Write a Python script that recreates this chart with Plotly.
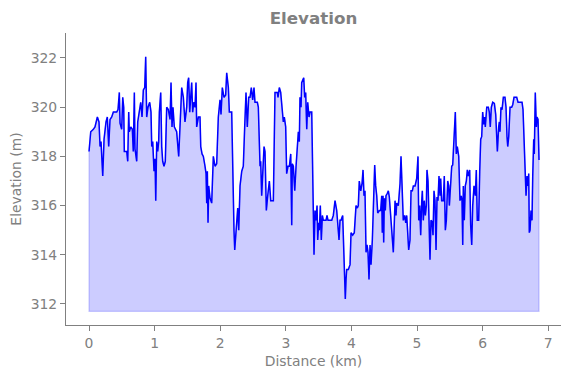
import plotly.graph_objects as go

distance_km = [
    0.000, 0.026, 0.066, 0.091, 0.127, 0.152, 0.168, 0.183, 0.209, 0.229,
    0.259, 0.279, 0.300, 0.320, 0.346, 0.371, 0.422, 0.442, 0.462, 0.473,
    0.498, 0.514, 0.529, 0.538, 0.575, 0.590, 0.605, 0.614, 0.636, 0.660,
    0.675, 0.691, 0.701, 0.727, 0.742, 0.762, 0.788, 0.808, 0.828, 0.849,
    0.864, 0.879, 0.899, 0.925, 0.945, 0.956, 0.971, 0.991, 1.006, 1.017,
    1.032, 1.047, 1.062, 1.072, 1.093, 1.108, 1.123, 1.143, 1.163, 1.184,
    1.209, 1.235, 1.250, 1.265, 1.280, 1.300, 1.336, 1.367, 1.387, 1.413,
    1.438, 1.463, 1.489, 1.504, 1.519, 1.535, 1.550, 1.565, 1.580, 1.596,
    1.616, 1.631, 1.641, 1.667, 1.692, 1.703, 1.723, 1.743, 1.768, 1.784,
    1.794, 1.804, 1.814, 1.825, 1.845, 1.870, 1.895, 1.921, 1.946, 1.971,
    1.997, 2.012, 2.032, 2.058, 2.083, 2.099, 2.124, 2.139, 2.175, 2.190,
    2.210, 2.221, 2.251, 2.267, 2.282, 2.302, 2.328, 2.352, 2.373, 2.393,
    2.413, 2.434, 2.454, 2.474, 2.495, 2.515, 2.530, 2.566, 2.581, 2.591,
    2.607, 2.617, 2.632, 2.648, 2.668, 2.683, 2.703, 2.724, 2.749, 2.770,
    2.810, 2.835, 2.870, 2.881, 2.901, 2.922, 2.942, 2.962, 2.977, 2.998,
    3.013, 3.034, 3.054, 3.075, 3.090, 3.099, 3.115, 3.136, 3.156, 3.191,
    3.206, 3.216, 3.232, 3.242, 3.258, 3.273, 3.288, 3.303, 3.319, 3.334,
    3.354, 3.369, 3.395, 3.410, 3.419, 3.430, 3.445, 3.460, 3.476, 3.486,
    3.501, 3.511, 3.526, 3.541, 3.557, 3.572, 3.613, 3.628, 3.643, 3.700,
    3.724, 3.750, 3.776, 3.791, 3.811, 3.826, 3.841, 3.867, 3.887, 3.898,
    3.907, 3.918, 3.928, 3.953, 3.979, 3.994, 4.019, 4.044, 4.070, 4.090,
    4.105, 4.120, 4.142, 4.162, 4.177, 4.192, 4.207, 4.223, 4.238, 4.253,
    4.268, 4.284, 4.299, 4.319, 4.334, 4.355, 4.370, 4.386, 4.401, 4.426,
    4.446, 4.462, 4.471, 4.482, 4.492, 4.502, 4.517, 4.527, 4.548, 4.563,
    4.578, 4.614, 4.639, 4.665, 4.680, 4.690, 4.715, 4.741, 4.756, 4.771,
    4.791, 4.812, 4.828, 4.843, 4.858, 4.873, 4.893, 4.909, 4.929, 4.944,
    4.970, 4.995, 5.015, 5.026, 5.041, 5.056, 5.072, 5.081, 5.096, 5.111,
    5.127, 5.142, 5.152, 5.168, 5.183, 5.198, 5.213, 5.229, 5.244, 5.259,
    5.274, 5.290, 5.305, 5.320, 5.335, 5.351, 5.361, 5.376, 5.401, 5.416,
    5.432, 5.447, 5.468, 5.483, 5.493, 5.514, 5.529, 5.544, 5.564, 5.584,
    5.599, 5.614, 5.636, 5.655, 5.675, 5.686, 5.697, 5.706, 5.721, 5.736,
    5.752, 5.767, 5.782, 5.803, 5.818, 5.834, 5.849, 5.869, 5.889, 5.904,
    5.919, 5.940, 5.956, 5.971, 5.986, 6.001, 6.017, 6.032, 6.041, 6.063,
    6.087, 6.102, 6.117, 6.133, 6.154, 6.179, 6.200, 6.215, 6.225, 6.245,
    6.255, 6.265, 6.280, 6.296, 6.316, 6.341, 6.357, 6.372, 6.383, 6.398,
    6.418, 6.443, 6.459, 6.479, 6.499, 6.520, 6.540, 6.570, 6.601, 6.616,
    6.631, 6.642, 6.651, 6.662, 6.677, 6.692, 6.703, 6.712, 6.723, 6.738,
    6.753, 6.764, 6.779, 6.788, 6.803, 6.819, 6.829, 6.845, 6.860,
]

elevation_m = [
    318.2, 319.0, 319.1, 319.2, 319.6, 319.4, 318.4, 318.6, 317.2, 318.7,
    319.4, 319.6, 318.4, 319.5, 319.6, 319.8, 319.8, 319.9, 320.6, 319.35,
    319.1, 320.4, 320.0, 318.2, 318.2, 317.8, 319.8, 319.0, 319.2, 319.1,
    318.2, 320.6, 318.3, 317.8, 319.4, 319.8, 320.2, 319.6, 320.7, 320.8,
    322.05, 319.6, 320.0, 320.2, 319.8, 318.4, 318.6, 317.4, 317.9, 316.2,
    318.6, 318.2, 318.6, 319.8, 320.6, 318.4, 317.8, 317.6, 317.8, 320.0,
    319.9, 319.5, 321.0, 319.2, 320.0, 319.2, 319.0, 318.0, 319.0, 320.8,
    320.4, 319.4, 320.0, 321.0, 321.2, 319.8, 320.4, 321.0, 319.8, 320.2,
    320.0, 321.0, 319.2, 319.6, 319.6, 318.4, 318.1, 318.0, 317.6, 317.3,
    316.1, 317.4, 315.3, 316.8, 316.3, 316.1, 318.0, 317.6, 317.7, 319.6,
    320.3, 319.7, 320.8, 320.4, 320.5, 321.4, 320.8, 319.8, 319.8, 317.0,
    315.0, 314.2, 315.4, 315.9, 315.0, 316.8, 317.4, 317.6, 319.2, 320.6,
    319.2, 320.4, 320.4, 320.8, 320.3, 320.8, 320.2, 320.2, 320.0, 318.8,
    317.6, 317.8, 316.4, 317.3, 318.4, 318.2, 315.8, 316.4, 317.0, 316.2,
    316.2, 320.6, 320.6, 320.4, 320.8, 320.6, 319.8, 319.4, 319.6, 319.2,
    317.3, 317.6, 317.6, 318.1, 315.2, 317.7, 317.6, 316.6, 317.6, 319.0,
    318.6, 320.4, 320.0, 321.0, 321.1, 321.2, 320.4, 320.6, 319.1, 320.2,
    319.6, 319.8, 319.8, 317.45, 316.1, 314.0, 315.8, 315.4, 316.0, 314.6,
    315.3, 315.0, 316.0, 314.6, 315.6, 315.4, 315.4, 315.6, 315.4, 315.4,
    315.6, 316.2, 315.8, 315.4, 314.6, 315.4, 315.4, 315.6, 313.5, 312.8,
    312.2, 313.0, 313.4, 313.4, 313.6, 314.9, 314.8, 314.9, 316.0, 315.9,
    316.0, 317.0, 316.6, 316.9, 317.45, 316.4, 316.6, 314.1, 314.4, 314.1,
    313.0, 314.4, 313.6, 314.6, 316.2, 317.65, 316.8, 316.4, 315.7, 315.8,
    315.8, 316.4, 314.9, 316.4, 314.5, 316.3, 315.8, 316.4, 316.5, 316.6,
    316.35, 315.0, 314.1, 316.2, 315.6, 316.1, 316.0, 316.9, 318.0, 316.9,
    315.4, 315.6, 315.3, 315.6, 314.5, 314.2, 314.6, 316.6, 316.6, 316.8,
    316.8, 317.1, 318.0, 315.4, 316.0, 314.8, 316.2, 316.6, 315.4, 316.2,
    315.6, 316.0, 317.45, 317.0, 315.4, 313.8, 315.4, 315.35, 314.8, 316.6,
    316.2, 314.2, 316.35, 316.2, 317.2, 316.4, 317.1, 316.2, 316.2, 317.2,
    315.0, 315.4, 317.0, 316.8, 316.0, 317.3, 317.6, 317.65, 319.1, 319.8,
    318.1, 318.4, 318.0, 316.2, 316.4, 316.2, 314.4, 316.8, 315.4, 316.8,
    317.0, 317.45, 317.2, 317.45, 315.2, 314.4, 316.0, 316.8, 316.4, 317.45,
    315.4, 315.4, 317.4, 318.7, 318.8, 319.8, 319.3, 319.6, 319.2, 320.0,
    320.0, 319.8, 319.2, 320.0, 320.2, 320.15, 319.7, 318.7, 318.2, 319.2,
    319.4, 319.0, 320.0, 319.9, 320.4, 320.4, 320.0, 318.8, 318.4, 318.8,
    320.0, 320.0, 320.1, 320.4, 320.4, 320.4, 320.2, 320.2, 320.2, 319.9,
    318.7, 318.0, 317.6, 316.4, 317.2, 316.8, 317.3, 314.9, 315.0, 315.8,
    315.4, 317.2, 318.7, 318.1, 320.6, 319.2, 319.6, 319.5, 317.85,
]

fill_base_m = min(elevation_m) - 0.5

title_text = "Elevation"
x_title = "Distance (km)"
y_title = "Elevation (m)"
x_ticks = [0, 1, 2, 3, 4, 5, 6, 7]
y_ticks = [312, 314, 316, 318, 320, 322]

GREY = "#808080"
FONT = "DejaVu Sans"

fig = go.Figure()

# filled area polygon (matplotlib-like fill_between with translucent edge)
fig.add_trace(go.Scatter(
    x=distance_km + [distance_km[-1], distance_km[0], distance_km[0]],
    y=elevation_m + [fill_base_m, fill_base_m, elevation_m[0]],
    mode="lines",
    fill="toself",
    fillcolor="rgba(0,0,255,0.2)",
    line=dict(color="rgba(0,0,255,0.2)", width=1.2),
    hoverinfo="skip",
    showlegend=False,
))

fig.add_trace(go.Scatter(
    x=distance_km,
    y=elevation_m,
    mode="lines",
    line=dict(color="#0000ff", width=1.5),
    showlegend=False,
))

axis_common = dict(
    showline=True,
    linecolor=GREY,
    linewidth=1.1,
    showgrid=False,
    zeroline=False,
    ticks="outside",
    ticklen=5,
    tickwidth=1.1,
    tickcolor=GREY,
    tickfont=dict(family=FONT, size=13.9, color=GREY),
    mirror=False,
)

# page body has an 8px margin, so the figure is sized to fit inside the window
fig.update_layout(
    width=563,
    height=370,
    margin=dict(l=58, r=10, t=25, b=53),
    paper_bgcolor="white",
    plot_bgcolor="white",
    title=dict(
        text="<b>" + title_text + "</b>",
        font=dict(family=FONT, size=16.7, color=GREY),
        x=0.5, xref="paper", xanchor="center",
        y=1 - 10 / 370, yref="container", yanchor="middle",
    ),
    xaxis=dict(
        range=[-0.351, 7.195],
        tickvals=x_ticks,
        title=dict(text=x_title, font=dict(family=FONT, size=13.9, color=GREY), standoff=6),
        automargin=False,
        **axis_common,
    ),
    yaxis=dict(
        range=[311.146, 323.016],
        tickvals=y_ticks,
        title=dict(text=y_title, font=dict(family=FONT, size=13.9, color=GREY), standoff=6),
        automargin=False,
        **axis_common,
    ),
)

fig.write_html("out.html")
